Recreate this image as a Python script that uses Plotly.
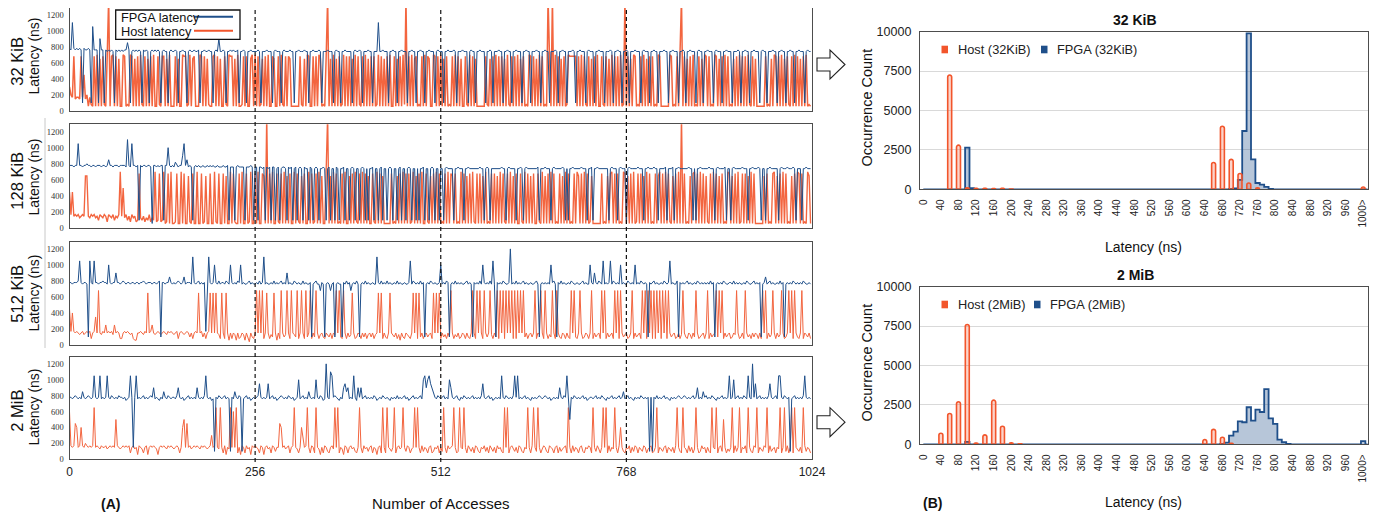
import plotly.graph_objects as go

# the page body has an 8px margin: the figure is 8px smaller and shifted accordingly
W, H = 1379, 515
OFF = 8
FW, FH = W - OFF, H - OFF

# value code table (ns) used by the per-sample strings below
LEVEL = {'a': 40, 'b': 60, 'c': 80, 'd': 100, 'e': 130, 'f': 150, 'g': 170, 'h': 200,
         'i': 250, 'j': 300, 'F': 350, 'k': 400, 'E': 450, 'l': 500, 'm': 600, 'n': 650,
         'o': 680, 'p': 700, 'q': 720, 'r': 740, 's': 760, 't': 780, 'u': 800, 'D': 820,
         'v': 850, 'w': 900, 'C': 950, 'x': 1000, 'A': 1050, 'y': 1100, 'B': 1200, 'z': 1400}


def decode(s):
    return [LEVEL[c] for c in s if not c.isspace()]


# ---------------- (A) latency per access (one sample every 2 accesses) ----------------
fpga_32k = decode("""
tsytstst sdtsstsd Asssdwss dsrsrsrd srsrsrss vsdrsrsr srdsrsrd rsrsrsrd
rsrrdrsr rsrdrrsr rdrsrrsr rsdrrsrr srrdrsrw rrsrdrrs rsrrsdrr srdrrsrr
rrsrdrrr srrrdrsr rrdrsrrr srrdrrsr rrsrrdrr srrrsrdr rrsrrrdr srrdrrsr
rrrdrsrr srdrrrsr rdrrryrr srrrdrrs rrdrrsrr rdrrsrrd rrsrrdrr srrrdrsr
rrdrrsrr rsrdrrrs rrrdrsrr drrsrrrd rrsrdrrr srrdrrsr rdrrsrrr drrsrrdr
rrsrrdrr srrdrrrs rdrrsrrd rrrsrdrr srrrdrsr rrdrrsrr rdrrrsrd rrsrrdrr
srdrrrsr rrdrsrrr drrsrrdr rrsrrdrr srrrdrrs rdrrsrrr drsrrdrr srrrdrsr
rrdrrsrr rdrrrsrd rrsrrdrr srrrdrsr rdrrrsrr drrsrrdr rsrrdrrs rrrdrsrr
""")
host_32k = decode("""
jhgofggf ogEfhbgc bobpbnbo cbozbopb obnbbpob cbpobnbo bpcbobnb obpbbocb
oobnbpbb bobnbbpo obcpbnob bbpobobn cbbopbob nbbocbpo obnbpbbc obobbnpb
pbobcnbo bpbbonbb obpcbobo nbbbbbbo cbnbpobb obobpnbc bozbnbpb nbobcpbo
bobnbpbo cbobpbnb obobcpbo bnbobpbb obnbobpc zbobpbno bcbobpbo nbbpobob
pbnbobcb obpbobnb bocbpbob nbbbbbbo cbnbobpb obobnbpc bobobpbn bobcbpob
obnbpbob cbzobzbp bobnbobc pooooobo bpbocbob nbobpbbo cbobnbpb obobpbcz
bobnbpob cbobpbnb obobcbpo bbbbbbpo bcbobpzb obnbobpb cbobnbpo bobcbpob
nbobpbob cbnbobpb obobpcbo bnbbbbbb obcbnbpo bobpbnbo cbobpbob nbobpbcb
""")
fpga_128k = decode("""
tttsttAt tsttutts ttstttst tstvttst ttstttts ytsAttst dtsttstt sbttstst
tdttxtst sDtsttwA tvstsdst stsstsst ststssts sstsstds ssdstsss sdssstsd
ssdssrsd srsdssdr sdrssrds rsdrsdrs rdsrrdsr drsrdrrs rdrsdrrd srdrrsdr
rdrsrdrr drsrdrdr rsdrrdrs drrdrsrd rrdrsdrr drsrdrrd rdrrsdrr drsrdrrd
rrdrsrrr rdrrsrrr drrsrrrr rrrsrrdr srdrrrrr rrsrrdrs rrrrdrrs rdrsrrrr
rrrsdrrr srrrdrsr rrrrsrdr drrsrrrr rsrrrdrr sdrrsrrr rrrrdrsr rrdrsrrr
drsrrrrr srrrdrrs rrrsrrdr rrrsdrrr sdrrsrrr rrrsrrdr drrsrrrr rsrrrdrs
rrrrsdrr drsrrrrr srrrdrrs rrrsrdrr drrsrrrr rdrsrrrs rrrsrdrr rdrrsrrr
""")
host_128k = decode("""
EgEfgfge fgfnnfeg fgefdgfe gfcgfegd fegpfleg dfcgefcd oedfcedg cedpcdoc
dpbcobpb bcobbpbo bbncbobb pbbobcnb bobbpcbo bbobnbbp bocbbobp bbobcpbb
obpbbonb zbobpbbo cbobpbnb obbpbocb nbobbpbo bcobpbnb bozbnbpb obcbobpb
bnbobpcb obpbobnb bocbpbob nbbbbbob cbnbobpb obobcpbn bobpbboc bnbobpbo
bcbobpbo nbobcbpb obnbobpc bobobnbp bcbobobn bpbocbob pbnbobbo cbpbobnb
obbocbpb nbobpbob cbobnbpb obcbobpn bobpbobc nbbbbbbo bcbnbopb obobcbpo
bnbobpbc obobnbpb obcbobnp bobpbocb nbobpbzb obcbnbop bobpbobn cbobpbob
nbobcbpo bnbobpbc obobnbpb obbbbbbn bobcbopb nbobpbob cbnbobpo bobcbpnb
""")
fpga_512k = decode("""
ttstttuA tsttsdAt sAttsttu ttsxtstt wttstuts ttsttstt sttutstt tsttstud
ttsttvts tstutstv stttsyts tuststgt ytstxtsu sttsutsx tstsutxs tsstusts
stsustys tsstsust stustsws tssutsts sustsstd stussots dstsostd stssdtsu
stostsus dstsusts stssytsu stsustss tsustsst sstAsuts tsustdst sutstsst
xstsutds tsuststs stustsdt stsusxts tsusAsdt stsutsst Bstsusts tustssts
stusdsts tstsxtus dtsustss tsutssts stustssx tswtsuts AststAsu tstsxsts
sutstsxs tsutstsd tstustss tsutstAs tssudtst stustsst sutststs tsustdst
stsutsst tsuststs stsutsst uststdst vstustss tsustdst stsutsts tsutssts
""")
host_512k = decode("""
Egkgfgfe fgefgfgc fgFfofeg fifgfgei fgfccfgf gfefcbbf fgfegfnf gifefgfe
fgfegfgf efgcfgfe fgfdfcfg fnfgdfcf gnfnfnfe cnfcnfbf cfebfcdf ebfcafdc
fofofocf nfcednfb fcofdeof cofedocf ofcodfoc fdofcefd cfedfcfe ofodcofc
fdenfcdf ecfdfcef dfcefnfn cfdcfnfe dfcebfdc fedcfnfn cndfcefd efcnfnfn
cfdecfdo fcedfcdf ecfdcfof cofofcof dfoecfdo cofocofo fococofo fodfcefd
focfeofc ofcedofc ofdcfecf dcofodcf ofcdfecf ocfdefco focfdefc ofocofde
fcdfocfd efcofoco fococofo cofocofd efcdfceo fdcfecfd ofcdefcf ocfdefod
ofocfdef cdfeofcd fcofdecf dfecfcof ocfdeofc fdeofcdf ofocofdc focfedfc
""")
fpga_2m = decode("""
ttstutst svtstuts tAtstAst stAtsuts tsuttstr stAtftAs tstustst utwstsrt
svtsutst tsuwtstr stuststs wtstsuAt strsdtsu tstustsd tsvtsutd stustrst
stuCtsts tCstustr stutstsu tstrstxs tustsvts tsxtsutr sBtsyAtu tsrtswCv
wstsAtrw twstusts tsutrsts utstsrts tsuststu strstust stusxAwx ACwvtsut
stustsxw tstusrts utststus tstsuCts tustrsts tsAtsuts tsuAtAst stustsrt
ststutst utstrsts tswtsutA sltsutst stustrst tstustsu tsrtstus tstustvs
tustsrts tsutstst dtdtsust stustsrt ststutst utststus twstsvtu stsutsrt
stuststA stxstust sutsAtsB tCstusts tsuCtstu sAAtsuts tdstusts tsuAtsts
""")
host_2m = decode("""
mgfgEkfg kgfhgfgf gnfgfegf fgefgfgf lgfefgfg fgcfgefb gfecfgbf gfgfebfg
fgfegfgf efgfcfkl fEfgefgf gfegfgfe fgjfgnfe nfcgbfen fmfncfbg fcgefbgf
gfecgfbf gefcgfdf fEkfgefg cfgnfecf kjfgnfcg fcnfebfc gfdcfgen fncfebgf
cfgefdcf nfcgefdf gcfebfgc nfcnfedf ncfgefnf dgfcefnf nfcgdfec fgcdfegc
fdnfcgef gnfcdnfe nfcgedfc gfdcfegd fcgedfcg efdcnfnc fgedfcgf dcfenfcg
nfdnfceg fdcgfecf gcfdefgc nfcgdfec fgdcfegf cnfdgecf nfncgdfe nfcgkfdc
fegcfdgf cfedgfce fgcdfncf edfgcfed fcgnfdcn fecgdfce nfcdgefc fdcnfenc
fgdlfced fncgdfnc fegcnfdc gfncfedg fncgdefc fencfndg cfncnfed fcngdfec
""")

panel_names = ["32 KiB", "128 KiB", "512 KiB", "2 MiB"]
ACCESS_TICKS = [0, 256, 512, 768, 1024]
LAT_TICKS = [0, 200, 400, 600, 800, 1000, 1200]

# ---------------- (B) latency histograms ----------------
host32_bins = [60, 80, 100, 120, 140, 160, 180, 200, 660, 680, 700, 720, 740, 760, 1000]
host32_counts = [7250, 2800, 100, 70, 60, 50, 60, 20, 1700, 4000, 1900, 1000, 400, 100, 150]
fpga32_bins = [100, 110, 700, 710, 720, 730, 740, 750, 760, 770, 780, 790]
fpga32_counts = [2650, 80, 20, 60, 600, 3700, 9900, 1900, 400, 300, 150, 30]

host2m_bins = [40, 60, 80, 100, 120, 140, 160, 180, 200, 220, 640, 660, 680, 700]
host2m_counts = [700, 1950, 2700, 7600, 80, 600, 2800, 1150, 100, 30, 300, 950, 450, 60]
fpga2m_bins = [100, 680, 690, 700, 710, 720, 730, 740, 750, 760, 770, 780, 790, 800,
               810, 820, 830, 1000]
fpga2m_counts = [150, 20, 100, 550, 800, 1450, 1400, 2350, 1500, 2200, 2050, 3500, 1650,
                 1300, 300, 130, 30, 200]

HIST_TICKS = list(range(0, 1001, 40))
HIST_TICKTEXT = [str(v) for v in range(0, 1000, 40)] + ["1000>"]
COUNT_TICKS = [0, 2500, 5000, 7500, 10000]
GRID10 = list(range(0, 1011, 10))

# ---------------- styling ----------------
FONT = "Liberation Sans, Arial, sans-serif"
SERIF = "Liberation Serif, Times New Roman, serif"
BLUE = "#1f4f8a"
ORANGE = "#f2552b"
BOX = "#4d4d4d"


def px(x):
    return min(1.0, max(0.0, (x - OFF) / FW))


def py(y):
    return min(1.0, max(0.0, 1 - (y - OFF) / FH))


def dense(bins, counts):
    d = dict(zip(bins, counts))
    return [d.get(b, 0) for b in GRID10]


def label(text, x, y, size, angle=0, xanchor="center", bold=False, color="#111"):
    return dict(text=("<b>%s</b>" % text) if bold else text, x=px(x), y=py(y),
                xref="paper", yref="paper", showarrow=False, textangle=angle,
                xanchor=xanchor, yanchor="middle",
                font=dict(size=size, family=FONT, color=color))


fig = go.Figure()
layout = dict(width=FW, height=FH, margin=dict(l=0, r=0, t=0, b=0, pad=0), autosize=False,
              paper_bgcolor="white", plot_bgcolor="white", showlegend=False,
              font=dict(family=FONT, color="#222"))

panel_px = [(8.0, 111.0), (124.3, 228.3), (241.7, 345.0), (356.7, 459.3)]
series = [(fpga_32k, host_32k), (fpga_128k, host_128k), (fpga_512k, host_512k), (fpga_2m, host_2m)]
host_widths = [1.5, 1.35, 1.0, 1.0]

annotations = []
shapes = []

for i, ((fpga, host), (top, bot)) in enumerate(zip(series, panel_px)):
    k = "" if i == 0 else str(i + 1)
    xs_h = [j * 1024 / len(host) for j in range(len(host))]
    xs_f = [j * 1024 / len(fpga) for j in range(len(fpga))]
    fig.add_trace(go.Scatter(x=xs_h, y=host, mode="lines", xaxis="x" + k, yaxis="y" + k,
                             line=dict(color=ORANGE, width=host_widths[i]), opacity=0.9,
                             hoverinfo="skip"))
    fig.add_trace(go.Scatter(x=xs_f, y=fpga, mode="lines", xaxis="x" + k, yaxis="y" + k,
                             line=dict(color=BLUE, width=1), hoverinfo="skip"))
    xa = dict(domain=[px(69.5), px(812)], range=[0, 1024], anchor="y" + k, automargin=False,
              showgrid=False, zeroline=False, showline=True, mirror=True,
              linecolor=BOX, linewidth=1.2)
    if i == 3:
        xa.update(tickvals=ACCESS_TICKS, ticktext=[str(v) for v in ACCESS_TICKS],
                  ticks="outside", ticklen=1, tickcolor="rgba(0,0,0,0)",
                  tickfont=dict(size=12, family=FONT, color="#222"))
    else:
        xa.update(showticklabels=False, ticks="")
    ymax = 1290 * (111.0 - top) / (111.0 - 7.3) if i == 0 else 1290
    ya = dict(domain=[py(bot), py(top)], range=[0, ymax],
              anchor="x" + k, automargin=False,
              tickvals=LAT_TICKS, ticktext=[str(v) for v in LAT_TICKS],
              ticks="outside", ticklen=3, tickcolor="rgba(0,0,0,0)",
              tickfont=dict(size=8.5, family=SERIF, color="#333"),
              showgrid=False, zeroline=False, showline=True, mirror=True,
              linecolor=BOX, linewidth=1.2)
    layout["xaxis" + k] = xa
    layout["yaxis" + k] = ya

# left panel labels
label_pos = [((16.7, 61), (33.5, 56)), ((16.7, 181), (33.5, 177)),
             ((16.7, 294), (33.5, 293)), ((16.7, 411), (33.5, 407))]
for name, ((x1, y1), (x2, y2)) in zip(panel_names, label_pos):
    annotations.append(label(name, x1, y1, 16.5, angle=-90))
    annotations.append(label("Latency (ns)", x2, y2, 14, angle=-90))

# dashed separators
for v in ACCESS_TICKS[1:4]:
    shapes.append(dict(type="line", xref="x4", yref="paper", x0=v, x1=v, y0=py(462), y1=py(OFF),
                       line=dict(color="#111", width=1.2, dash="4px,3px"), layer="above"))

# image edge line
shapes.append(dict(type="line", xref="paper", yref="paper", x0=px(45), x1=px(45),
                   y0=py(118), y1=py(348), line=dict(color="#c8c8c8", width=1)))

# left legend
shapes.append(dict(type="rect", xref="paper", yref="paper", x0=px(115.7), x1=px(240),
                   y0=py(39.3), y1=py(10), line=dict(color="#111", width=1.3),
                   fillcolor="white", layer="above"))
shapes.append(dict(type="line", xref="paper", yref="paper", x0=px(194), x1=px(233),
                   y0=py(16.7), y1=py(16.7), line=dict(color=BLUE, width=2), layer="above"))
shapes.append(dict(type="line", xref="paper", yref="paper", x0=px(194), x1=px(233),
                   y0=py(30.7), y1=py(30.7), line=dict(color=ORANGE, width=2), layer="above"))
annotations.append(label("FPGA latency", 119, 17.5, 12.8, xanchor="left"))
annotations.append(label("Host latency", 119, 31.5, 12.8, xanchor="left"))

annotations.append(label("(A)", 110, 504, 14, bold=True))
annotations.append(label("Number of Accesses", 440.5, 503, 15))

# ---------------- histograms ----------------
hist_px = [(31.7, 189.3), (286.7, 444.3)]
hist_data = [(fpga32_bins, fpga32_counts, host32_bins, host32_counts, "32 KiB", "32KiB"),
             (fpga2m_bins, fpga2m_counts, host2m_bins, host2m_counts, "2 MiB", "2MiB")]
hist_axes = [("5", "6"), ("7", "8")]

for (fb, fc, hb, hc, title, short), (top, bot), (a, o) in zip(hist_data, hist_px, hist_axes):
    fig.add_trace(go.Scatter(x=GRID10, y=dense(fb, fc), mode="lines", line_shape="hvh",
                             line=dict(color=BLUE, width=1.8), fill="tozeroy",
                             fillcolor="rgba(31,79,138,0.32)", xaxis="x" + a, yaxis="y" + a,
                             hoverinfo="skip"))
    fig.add_trace(go.Bar(x=hb, y=hc, width=9, xaxis="x" + o, yaxis="y" + o,
                         marker=dict(color="rgba(242,85,43,0.25)", cornerradius=2,
                                     line=dict(color=ORANGE, width=1.6)),
                         hoverinfo="skip"))
    layout["xaxis" + a] = dict(domain=[px(920), px(1368)], range=[-7.5, 1011], anchor="y" + a,
                               automargin=False,
                               tickvals=HIST_TICKS, ticktext=HIST_TICKTEXT, tickangle=-90,
                               ticks="outside", ticklen=5, tickcolor="rgba(0,0,0,0)",
                               tickfont=dict(size=10, family=FONT, color="#222"),
                               showgrid=False, zeroline=False, showline=True, mirror=True,
                               linecolor=BOX, linewidth=1.3)
    layout["yaxis" + a] = dict(domain=[py(bot), py(top)], range=[0, 10000], anchor="x" + a,
                               automargin=False,
                               tickvals=COUNT_TICKS, ticktext=[str(v) for v in COUNT_TICKS],
                               ticks="outside", ticklen=5,
                               tickcolor="rgba(0,0,0,0)",
                               tickfont=dict(size=12.5, family=FONT, color="#222"),
                               showgrid=True, gridcolor="#d9d9d9", gridwidth=1,
                               zeroline=False, showline=True, mirror=True,
                               linecolor=BOX, linewidth=1.3)
    layout["xaxis" + o] = dict(overlaying="x" + a, range=[-7.5, 1011], visible=False,
                               automargin=False)
    layout["yaxis" + o] = dict(overlaying="y" + a, range=[0, 10000], visible=False,
                               automargin=False)

    cy = (top + bot) / 2
    annotations.append(label(title, 1135, top - 11.7, 14, bold=True))
    annotations.append(label("Occurrence Count", 866, cy - 3, 14.5, angle=-90))
    annotations.append(label("Latency (ns)", 1143.5, bot + 58, 14))
    # legend
    ly = top + 17.8
    shapes.append(dict(type="rect", xref="paper", yref="paper", x0=px(941.5), x1=px(948),
                       y0=py(ly + 3.8), y1=py(ly - 3.8), line=dict(width=0), fillcolor=ORANGE))
    annotations.append(label("Host (%s)" % short, 955.5, ly, 12.8, xanchor="left", color="#222"))
    bx = 1041 if short == "32KiB" else 1034
    shapes.append(dict(type="rect", xref="paper", yref="paper", x0=px(bx), x1=px(bx + 6.5),
                       y0=py(ly + 3.8), y1=py(ly - 3.8), line=dict(width=0), fillcolor=BLUE))
    annotations.append(label("FPGA (%s)" % short, bx + 13.5, ly, 12.8, xanchor="left",
                             color="#222"))

annotations.append(label("(B)", 932, 503, 14, bold=True))

# hollow arrows between the panels
for (t, b) in [(50.0, 79.0), (407.7, 436.7)]:
    mid = (t + b) / 2
    pts = [(817, mid - 6.5), (830, mid - 6.5), (830, t), (845, mid), (830, b),
           (830, mid + 6.5), (817, mid + 6.5)]
    path = "M " + " L ".join("%.5f,%.5f" % (px(x), py(y)) for x, y in pts) + " Z"
    shapes.append(dict(type="path", xref="paper", yref="paper", path=path,
                       line=dict(color="#222", width=1.1), fillcolor="white"))

layout["annotations"] = annotations
layout["shapes"] = shapes
fig.update_layout(**layout)
fig.write_html("out.html")
